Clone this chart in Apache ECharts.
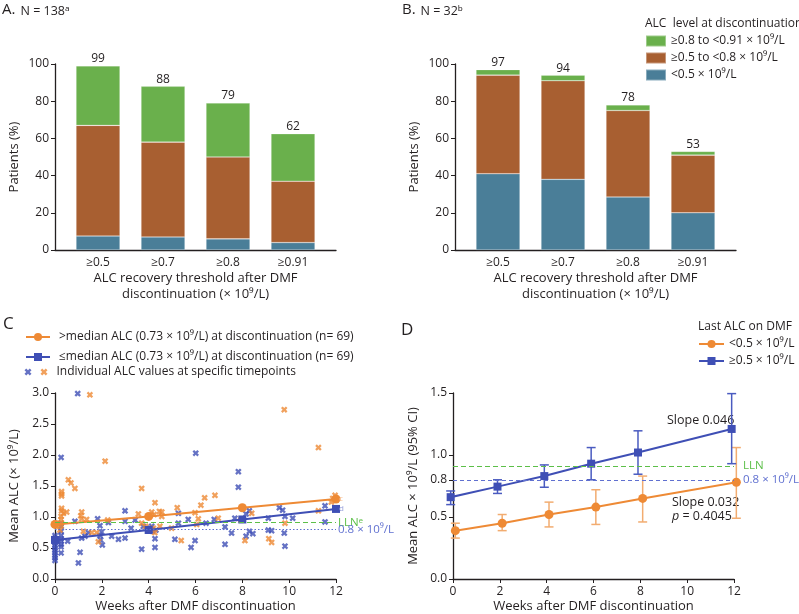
<!DOCTYPE html>
<html>
<head>
<meta charset="utf-8">
<script src="https://cdn.jsdelivr.net/npm/echarts@6/dist/echarts.min.js"></script>
<style>
  html, body { margin: 0; background: #fff; }
  #chart { width: 799px; height: 614px; }
</style>
</head>
<body>
<div id="chart"></div>
<script>
// ---------- A / B: patients reaching ALC recovery threshold ----------
const thresholds = ['≥0.5', '≥0.7', '≥0.8', '≥0.91'];
const levelNames = ['≥0.8 to <0.91 × 10⁹/L', '≥0.5 to <0.8 × 10⁹/L', '<0.5 × 10⁹/L'];
const aLow = [7.5, 7, 6, 4];
const aMid = [59.5, 51, 44, 33];
const aHigh = [32, 30, 29, 25.5];
const aTotals = [99, 88, 79, 62];
const bLow = [41, 38, 28.5, 20];
const bMid = [53, 53, 46.5, 31];
const bHigh = [3, 3, 3, 2];
const bTotals = [97, 94, 78, 53];

// ---------- C: mean ALC by median split + individual values ----------
const cWeeks = [0, 4, 8, 12];
const cAboveMean = [0.88, 1.01, 1.15, 1.29];
const cBelowMean = [0.63, 0.79, 0.96, 1.13];
const cAbovePoints = [
  [1.49, 2.97], [9.79, 2.73], [11.25, 2.12], [2.14, 1.90], [0.57, 1.60], [0.68, 1.55],
  [0.85, 1.46], [3.70, 1.46], [0.28, 1.41], [0.28, 1.37], [0.28, 1.34], [6.83, 1.35],
  [6.39, 1.31], [6.23, 1.19], [4.27, 1.23], [5.22, 1.15], [0.28, 1.14], [0.28, 1.10],
  [0.36, 1.06], [0.50, 1.08], [1.14, 1.08], [3.56, 1.05], [4.13, 1.08], [4.46, 1.09],
  [4.56, 1.08], [4.01, 1.01], [4.23, 1.04], [4.56, 1.01], [5.98, 1.07], [11.96, 1.35],
  [11.86, 1.30], [11.80, 1.24], [11.25, 1.10], [8.40, 1.06], [1.10, 1.02], [0.26, 1.01],
  [0.26, 0.96], [0.26, 0.90], [2.25, 0.95], [6.97, 0.98], [6.12, 0.97], [1.35, 0.96],
  [1.14, 0.97], [0.26, 0.86], [3.70, 0.90], [3.87, 0.85], [4.48, 0.85], [4.20, 0.82],
  [4.98, 0.82], [6.05, 0.88], [9.82, 0.90], [7.94, 0.95], [0.21, 0.79], [1.21, 0.77],
  [1.57, 0.75], [1.78, 0.75], [1.85, 0.60], [5.39, 0.62], [8.11, 0.62], [9.13, 0.65],
  [9.25, 0.59], [0.02, 0.90], [4.26, 0.75]
];
const cBelowPoints = [
  [0.97, 2.99], [0.26, 1.96], [6.01, 2.03], [7.83, 1.73], [7.83, 1.48], [2.99, 1.10],
  [9.58, 1.15], [9.72, 1.11], [11.53, 1.18], [5.27, 1.06], [8.30, 1.10], [8.16, 1.05],
  [0.26, 0.90], [0.85, 0.93], [1.82, 0.97], [2.28, 0.91], [1.92, 0.86], [2.99, 0.93],
  [3.42, 0.95], [5.69, 0.96], [5.27, 0.90], [6.45, 0.90], [6.80, 0.96], [7.68, 0.98],
  [10.15, 0.98], [9.11, 0.98], [9.82, 1.01], [11.53, 0.92], [3.25, 0.82], [3.77, 0.85],
  [4.13, 0.85], [4.17, 0.77], [4.31, 0.79], [4.05, 0.82], [7.26, 0.84], [8.30, 0.77],
  [8.45, 0.73], [8.16, 0.69], [9.11, 0.79], [9.25, 0.78], [9.79, 0.74], [7.54, 0.74],
  [1.99, 0.76], [1.42, 0.75], [1.28, 0.69], [1.92, 0.70], [2.42, 0.69], [2.71, 0.64],
  [2.99, 0.66], [4.27, 0.65], [4.27, 0.51], [3.70, 0.48], [5.12, 0.64], [5.81, 0.51],
  [5.98, 0.62], [7.26, 0.56], [9.82, 0.53], [1.07, 0.43], [0.26, 0.42], [1.00, 0.26],
  [0.54, 0.61], [1.14, 0.66], [0.26, 0.85], [0.26, 0.77], [0.26, 0.70], [0.26, 0.65],
  [0.26, 0.61], [0.26, 0.56], [0.26, 0.52], [0.00, 0.30], [0.00, 0.34], [0.00, 0.38],
  [0.00, 0.42], [0.00, 0.46], [0.00, 0.50], [0.00, 0.54], [0.00, 0.58], [0.00, 0.62],
  [0.00, 0.66], [0.00, 0.70], [2.02, 0.55], [1.95, 0.63]
];
const llnValue = 0.91;
const refValue = 0.8;

// ---------- D: mean ALC (95% CI) by last ALC on DMF ----------
const dWeeks = [0, 2, 4, 6, 8, 12];
const dLowMean = [0.39, 0.45, 0.52, 0.58, 0.65, 0.78];
const dLowCiLo = [0.33, 0.39, 0.42, 0.44, 0.46, 0.49];
const dLowCiHi = [0.45, 0.52, 0.62, 0.72, 0.83, 1.06];
const dHighMean = [0.66, 0.745, 0.83, 0.93, 1.02, 1.21];
const dHighCiLo = [0.60, 0.69, 0.74, 0.80, 0.845, 0.93];
const dHighCiHi = [0.71, 0.80, 0.92, 1.06, 1.195, 1.495];
const dTicks = [0, 0.5, 0.8, 1.0, 1.5];

// 样式
const FONT = '"Open Sans", "Noto Sans", sans-serif';
const INK = '#231f20';
const GREEN = '#6ab04c', BROWN = '#a85f31', TEAL = '#4a7e98';
const ORANGE = '#ee8a35', BLUE = '#3f4fb5';
const CROSS = 'path://M0,2.5 L2.5,0 L5,2.5 L7.5,0 L10,2.5 L7.5,5 L10,7.5 L7.5,10 L5,7.5 L2.5,10 L0,7.5 L2.5,5 Z';
const names = {
  cAbove: '>median ALC (0.73 × 10⁹/L) at discontinuation (n= 69)',
  cBelow: '≤median ALC (0.73 × 10⁹/L) at discontinuation (n= 69)',
  cDotsBlue: 'Individual ALC values (≤median)',
  cDots: 'Individual ALC values at specific timepoints',
  dLow: '<0.5 × 10⁹/L ',
  dHigh: '≥0.5 × 10⁹/L'
};

const chart = echarts.init(document.getElementById('chart'));

const axisLineStyle = { lineStyle: { color: INK, width: 1.3 } };
const tickLabel = { color: INK, fontSize: 12, fontFamily: FONT };
const nameStyle = { color: INK, fontSize: 13, fontFamily: FONT };

function catAxis(grid) {
  return {
    type: 'category', gridIndex: grid, data: thresholds,
    axisLine: { show: false }, axisTick: { show: false },
    axisLabel: Object.assign({ margin: 7 }, tickLabel),
    name: 'ALC recovery threshold after DMF\ndiscontinuation (× 10⁹/L)',
    nameLocation: 'middle', nameGap: 20,
    nameTextStyle: Object.assign({ lineHeight: 16 }, nameStyle)
  };
}
function frameX(grid) {
  return {
    type: 'value', gridIndex: grid, min: 0, max: 1,
    axisLine: axisLineStyle, axisTick: { show: false },
    axisLabel: { show: false }, splitLine: { show: false }
  };
}
function hiddenY(grid) {
  return { type: 'value', gridIndex: grid, min: 0, max: 100, show: false };
}
function pctAxis(grid) {
  return {
    type: 'value', gridIndex: grid, min: 0, max: 100, interval: 20,
    axisLine: { show: true, lineStyle: axisLineStyle.lineStyle },
    axisTick: { show: true, length: 4, lineStyle: { color: INK } },
    axisLabel: Object.assign({ margin: 6 }, tickLabel),
    splitLine: { show: false },
    name: 'Patients (%)', nameLocation: 'middle', nameGap: 34, nameTextStyle: nameStyle
  };
}
function weekAxis(grid) {
  return {
    type: 'value', gridIndex: grid, min: 0, max: 12, interval: 2,
    axisLine: axisLineStyle,
    axisTick: { show: true, length: 4, lineStyle: { color: INK } },
    axisLabel: Object.assign({ margin: 7 }, tickLabel),
    splitLine: { show: false },
    name: 'Weeks after DMF discontinuation', nameLocation: 'middle', nameGap: 21,
    nameTextStyle: nameStyle
  };
}

function barSeries(panel, grid, values, color, name, totals) {
  const s = {
    type: 'bar', name: name, xAxisIndex: grid, yAxisIndex: grid, stack: panel,
    data: values, barWidth: 44,
    itemStyle: { color: color, borderColor: 'rgba(255,255,255,0.35)', borderWidth: 0.6 }
  };
  if (totals) {
    s.label = {
      show: true, position: 'top', distance: 1, color: INK, fontSize: 12, fontFamily: FONT,
      formatter: (p) => totals[p.dataIndex]
    };
  }
  return s;
}

function errorBar(color) {
  return function (params, api) {
    const x = api.value(0);
    const hi = api.coord([x, api.value(2)]);
    const lo = api.coord([x, api.value(1)]);
    const half = 4.5;
    const style = { stroke: color, lineWidth: 1.5 };
    return {
      type: 'group',
      children: [
        { type: 'line', shape: { x1: hi[0], y1: hi[1], x2: lo[0], y2: lo[1] }, style: style },
        { type: 'line', shape: { x1: hi[0] - half, y1: hi[1], x2: hi[0] + half, y2: hi[1] }, style: style },
        { type: 'line', shape: { x1: lo[0] - half, y1: lo[1], x2: lo[0] + half, y2: lo[1] }, style: style }
      ]
    };
  };
}

function refLines(endX, dist, fontSize, dotted) {
  return {
    silent: true, symbol: ['none', 'none'],
    data: [
      [{ coord: [0, llnValue], lineStyle: { color: '#5cbf48', type: [5, 3], width: 1 },
         label: { show: true, position: 'end', distance: dist, formatter: dotted ? 'LLNᵉ' : 'LLN',
                  color: '#5cbf48', fontSize: fontSize, fontFamily: FONT } },
       { coord: [endX, llnValue] }],
      [{ coord: [0, refValue], lineStyle: { color: '#6070d0', type: dotted ? [1.5, 2] : [4, 3], width: 1 },
         label: { show: true, position: 'end', distance: dist, formatter: '0.8 × 10⁹/L',
                  color: '#6070d0', fontSize: fontSize, fontFamily: FONT } },
       { coord: [endX, refValue] }]
    ]
  };
}

function text(x, y, str, size, extra) {
  return {
    type: 'text', x: x, y: y, silent: true,
    style: Object.assign({ text: str, fontSize: size, fontFamily: FONT, fill: INK, verticalAlign: 'middle' }, extra || {})
  };
}

const dodge = 0.1;
const option = {
  backgroundColor: '#fff',
  animation: false,
  grid: [
    { left: 65.5, top: 64, width: 260, height: 186 },
    { left: 465.5, top: 64, width: 260, height: 186 },
    { left: 55, top: 64, width: 281, height: 186 },
    { left: 455, top: 64, width: 281, height: 186 },
    { left: 55, top: 393, width: 281, height: 186 },
    { left: 453, top: 393, width: 281, height: 186 }
  ],
  xAxis: [catAxis(0), catAxis(1), frameX(2), frameX(3), weekAxis(4), weekAxis(5)],
  yAxis: [
    hiddenY(0), hiddenY(1), pctAxis(2), pctAxis(3),
    {
      type: 'value', gridIndex: 4, min: 0, max: 3, interval: 0.5,
      axisLine: { show: true, lineStyle: axisLineStyle.lineStyle },
      axisTick: { show: true, length: 4, lineStyle: { color: INK } },
      axisLabel: Object.assign({ margin: 6, formatter: (v) => v.toFixed(1) }, tickLabel),
      splitLine: { show: false },
      name: 'Mean ALC (× 10⁹/L)', nameLocation: 'middle', nameGap: 34, nameTextStyle: nameStyle
    },
    {
      type: 'value', gridIndex: 5, min: 0, max: 1.5,
      axisLine: { show: true, lineStyle: axisLineStyle.lineStyle },
      axisTick: { show: true, length: 4, customValues: dTicks, lineStyle: { color: INK } },
      axisLabel: Object.assign({ margin: 6, customValues: dTicks, formatter: (v) => v.toFixed(1) }, tickLabel),
      splitLine: { show: false },
      name: 'Mean ALC × 10⁹/L (95% CI)', nameLocation: 'middle', nameGap: 33, nameTextStyle: nameStyle
    }
  ],
  legend: [
    {
      data: levelNames, left: 645, top: 34, padding: 0, orient: 'vertical', icon: 'rect',
      itemWidth: 20, itemHeight: 11, itemGap: 3,
      textStyle: { color: INK, fontSize: 12, fontFamily: FONT, lineHeight: 14 }
    },
    {
      data: [names.cAbove, names.cBelow], left: 25, top: 330, padding: 0, orient: 'vertical',
      itemWidth: 24, itemHeight: 10, itemGap: 6,
      textStyle: { color: INK, fontSize: 12, fontFamily: FONT, lineHeight: 14, padding: [0, 0, 0, 4] }
    },
    {
      data: [names.cDotsBlue, names.cDots], left: 24.5, top: 365, padding: 0, orient: 'horizontal',
      itemWidth: 7, itemHeight: 7, itemGap: 0,
      formatter: (n) => (n === names.cDotsBlue ? '' : n),
      textStyle: { color: INK, fontSize: 12, fontFamily: FONT, lineHeight: 14, padding: [0, 0, 0, 4] }
    },
    {
      data: [names.dLow, names.dHigh], left: 698, top: 337, padding: 0, orient: 'vertical',
      itemWidth: 25, itemHeight: 10, itemGap: 3,
      textStyle: { color: INK, fontSize: 12, fontFamily: FONT, lineHeight: 14 }
    }
  ],
  series: [
    barSeries('a', 0, aLow, TEAL, levelNames[2]),
    barSeries('a', 0, aMid, BROWN, levelNames[1]),
    barSeries('a', 0, aHigh, GREEN, levelNames[0], aTotals),
    barSeries('b', 1, bLow, TEAL, levelNames[2]),
    barSeries('b', 1, bMid, BROWN, levelNames[1]),
    barSeries('b', 1, bHigh, GREEN, levelNames[0], bTotals),

    // C
    {
      type: 'scatter', name: names.cDotsBlue, xAxisIndex: 4, yAxisIndex: 4,
      data: cBelowPoints, symbol: CROSS, symbolSize: 6.5, itemStyle: { color: BLUE }
    },
    {
      type: 'scatter', name: names.cDots, xAxisIndex: 4, yAxisIndex: 4,
      data: cAbovePoints, symbol: CROSS, symbolSize: 6.5, itemStyle: { color: ORANGE },
      markLine: refLines(12, 2, 11.5, true)
    },
    {
      type: 'line', name: names.cAbove, xAxisIndex: 4, yAxisIndex: 4, clip: false,
      data: cWeeks.map((w, i) => [w, cAboveMean[i]]),
      symbol: 'circle', symbolSize: 9, itemStyle: { color: ORANGE },
      lineStyle: { color: ORANGE, width: 2 },
      endLabel: { show: true, formatter: 'c', color: '#f4b98a', fontSize: 8, distance: 3, fontFamily: FONT }
    },
    {
      type: 'line', name: names.cBelow, xAxisIndex: 4, yAxisIndex: 4, clip: false,
      data: cWeeks.map((w, i) => [w, cBelowMean[i]]),
      symbol: 'rect', symbolSize: 8, itemStyle: { color: BLUE },
      lineStyle: { color: BLUE, width: 2 },
      endLabel: { show: true, formatter: 'd', color: '#9aa3dc', fontSize: 8, distance: 3, fontFamily: FONT }
    },

    // D
    {
      type: 'custom', xAxisIndex: 5, yAxisIndex: 5, renderItem: errorBar('#f2ac70'),
      data: dWeeks.map((w, i) => [w + dodge, dLowCiLo[i], dLowCiHi[i]]),
      encode: { x: 0, y: [1, 2] }, z: 1, silent: true
    },
    {
      type: 'custom', xAxisIndex: 5, yAxisIndex: 5, renderItem: errorBar('#4a5bc0'),
      data: dWeeks.map((w, i) => [w - dodge, dHighCiLo[i], dHighCiHi[i]]),
      encode: { x: 0, y: [1, 2] }, z: 1, silent: true
    },
    {
      type: 'line', name: names.dLow, xAxisIndex: 5, yAxisIndex: 5, clip: false, z: 3,
      data: dWeeks.map((w, i) => [w + dodge, dLowMean[i]]),
      symbol: 'circle', symbolSize: 9, itemStyle: { color: ORANGE },
      lineStyle: { color: ORANGE, width: 2 },
      markLine: refLines(12, 9, 11.5, false)
    },
    {
      type: 'line', name: names.dHigh, xAxisIndex: 5, yAxisIndex: 5, clip: false, z: 3,
      data: dWeeks.map((w, i) => [w - dodge, dHighMean[i]]),
      symbol: 'rect', symbolSize: 8, itemStyle: { color: BLUE },
      lineStyle: { color: BLUE, width: 2 }
    }
  ],
  graphic: [
    text(2, 10, 'A.', 15),
    text(20.5, 11, 'N = 138ᵃ', 12.5),
    text(402, 10, 'B.', 15),
    text(420.5, 11, 'N = 32ᵇ', 12.5),
    text(3, 324, 'C', 17),
    text(401, 330, 'D', 17),
    text(645, 24, 'ALC  level at discontinuation', 12),
    text(698, 327, 'Last ALC on DMF', 12),
    text(667, 420, 'Slope 0.046', 12.5),
    text(672, 502, 'Slope 0.032', 12.5),
    text(672, 516, '{i|p} = 0.4045', 12.5, { rich: { i: { fontStyle: 'italic', fontSize: 12.5, fontFamily: FONT, fill: INK } } })
  ]
};

chart.setOption(option);
</script>
</body>
</html>
